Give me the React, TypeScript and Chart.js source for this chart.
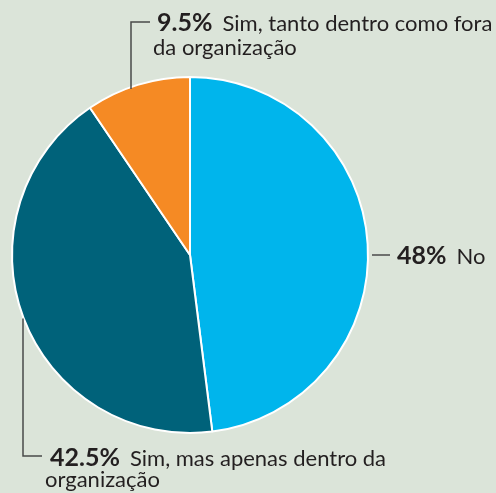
import React, { useEffect, useRef } from "react";
import { Chart, registerables } from "chart.js";

Chart.register(...registerables);

const categories = ["No", "Sim, mas apenas dentro da organização", "Sim, tanto dentro como fora da organização"];
const values = [48, 42.5, 9.5];
const percentLabels = ["48%", "42.5%", "9.5%"];
const colors = ["#00b5ec", "#00627a", "#f58a24"];

const BG = "#dbe4d9";
const TEXT = "#231f20";
const LINE = "#4a4a4a";
const FONT = "Lato, 'Noto Sans', sans-serif";

const labelPlugin = {
  id: "leaderLabels",
  afterDraw(chart: any) {
    const meta = chart.getDatasetMeta(0);
    const arc = meta.data[0];
    if (!arc) return;
    const cx = arc.x;
    const cy = arc.y;
    const r = arc.outerRadius;
    const ctx = chart.ctx;
    ctx.save();
    ctx.strokeStyle = LINE;
    ctx.lineWidth = 1.5;
    ctx.textBaseline = "alphabetic";
    ctx.textAlign = "left";

    const drawLabel = (x: number, y: number, pct: string, lines: string[], x2: number, lh: number) => {
      ctx.fillStyle = TEXT;
      ctx.font = `bold 25px ${FONT}`;
      ctx.fillText(pct, x, y);
      const w = ctx.measureText(pct).width;
      ctx.font = `22px ${FONT}`;
      ctx.fillText(lines[0], x + w + 10, y);
      for (let i = 1; i < lines.length; i++) {
        ctx.fillText(lines[i], x2, y + lh * i);
      }
    };

    // 48% No (right)
    ctx.beginPath();
    ctx.moveTo(cx + r + 4, cy);
    ctx.lineTo(cx + r + 22, cy);
    ctx.stroke();
    drawLabel(cx + r + 29, cy + 9, percentLabels[0], ["No"], 0, 0);

    // 9.5% (top)
    const xo = cx - 59;
    const yo = cy - Math.sqrt(r * r - 59 * 59) + 2;
    ctx.beginPath();
    ctx.moveTo(xo, yo);
    ctx.lineTo(xo, 22);
    ctx.lineTo(xo + 19, 22);
    ctx.stroke();
    drawLabel(xo + 26, 31, percentLabels[2], ["Sim, tanto dentro como fora", "da organização"], xo + 22, 24);

    // 42.5% (bottom left)
    const xd = cx - 167;
    const yd = cy + Math.sqrt(r * r - 167 * 167) + 2;
    ctx.beginPath();
    ctx.moveTo(xd, yd);
    ctx.lineTo(xd, 456);
    ctx.lineTo(xd + 19, 456);
    ctx.stroke();
    drawLabel(xd + 27, 466, percentLabels[1], ["Sim, mas apenas dentro da", "organização"], xd + 22, 21);

    ctx.restore();
  },
};

export default function App() {
  const ref = useRef<HTMLCanvasElement>(null);
  useEffect(() => {
    document.body.style.margin = "0";
    document.body.style.background = BG;
    const chart = new Chart(ref.current!, {
      type: "pie",
      data: {
        labels: categories,
        datasets: [
          {
            data: values,
            backgroundColor: colors,
            borderColor: "#ffffff",
            borderWidth: 2,
          },
        ],
      },
      options: {
        animation: false,
        responsive: false,
        events: [],
        layout: { padding: { left: 11, right: 127, top: 76, bottom: 59 } },
        plugins: {
          legend: { display: false },
          tooltip: { enabled: false },
        },
      },
      plugins: [labelPlugin],
    });
    return () => chart.destroy();
  }, []);
  return (
    <div style={{ width: 496, height: 493, background: BG }}>
      <canvas ref={ref} width={496} height={493} style={{ display: "block" }} />
    </div>
  );
}
